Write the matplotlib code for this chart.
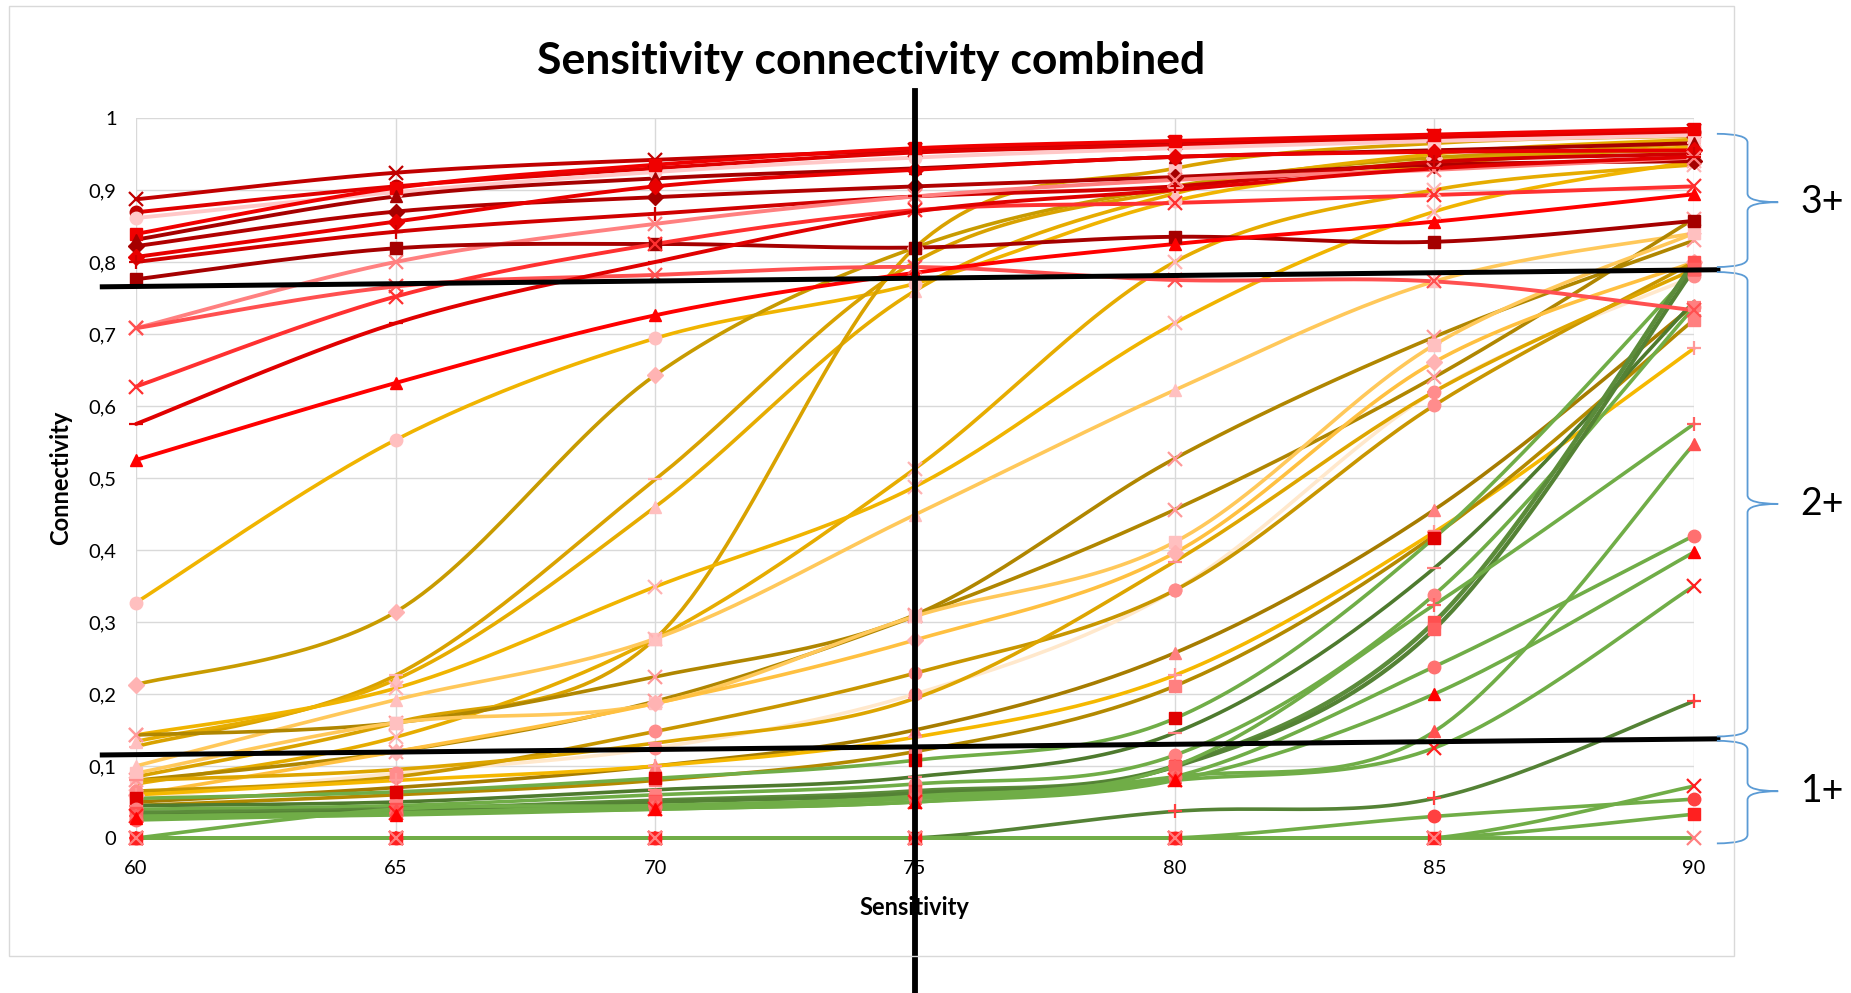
import numpy as np
import matplotlib.pyplot as plt
from matplotlib.path import Path
from matplotlib.patches import PathPatch, Rectangle

plt.rcParams['font.family'] = ['Lato', 'DejaVu Sans']

sensitivity = [60, 65, 70, 75, 80, 85, 90]
y_ticks = [0, 0.1, 0.2, 0.3, 0.4, 0.5, 0.6, 0.7, 0.8, 0.9, 1.0]
y_tick_labels = ['0', '0,1', '0,2', '0,3', '0,4', '0,5', '0,6', '0,7', '0,8', '0,9', '1']

# gold / yellow series (2+ at 75)
gold_values = [
    [0.327, 0.553, 0.694, 0.770, 0.885, 0.935, 0.960],
    [0.213, 0.314, 0.643, 0.820, 0.905, 0.945, 0.955],
    [0.127, 0.226, 0.498, 0.800, 0.900, 0.940, 0.965],
    [0.134, 0.220, 0.460, 0.760, 0.895, 0.950, 0.970],
    [0.085, 0.160, 0.277, 0.820, 0.930, 0.965, 0.975],
    [0.075, 0.140, 0.277, 0.513, 0.800, 0.900, 0.935],
    [0.143, 0.208, 0.349, 0.488, 0.715, 0.870, 0.940],
    [0.100, 0.192, 0.277, 0.449, 0.622, 0.773, 0.840],
    [0.143, 0.160, 0.224, 0.310, 0.527, 0.696, 0.830],
    [0.080, 0.120, 0.190, 0.308, 0.456, 0.640, 0.860],
    [0.090, 0.160, 0.187, 0.308, 0.411, 0.685, 0.840],
    [0.060, 0.120, 0.187, 0.275, 0.396, 0.661, 0.800],
    [0.055, 0.090, 0.125, 0.200, 0.344, 0.620, 0.780],
    [0.065, 0.085, 0.148, 0.229, 0.344, 0.601, 0.800],
    [0.050, 0.070, 0.100, 0.150, 0.257, 0.456, 0.740],
    [0.060, 0.080, 0.100, 0.140, 0.226, 0.425, 0.680],
    [0.045, 0.060, 0.080, 0.120, 0.211, 0.420, 0.720],
    [0.080, 0.095, 0.132, 0.194, 0.384, 0.620, 0.790],
]
gold_colors = ['#F0B400', '#C89B00', '#D9A200', '#E6AC00', '#D9A200', '#E6AC00',
               '#F0B400', '#FFC85A', '#B08600', '#B08600', '#FFC85A', '#FFC040',
               '#FFE8CC', '#C89600', '#A67C00', '#F5B800', '#B38900', '#DDA500']
gold_markers = ['o', 'D', '_', '^', 's', 'x', 'x', '^', 'x', 'x', 's', 'D',
                'o', 'o', '^', '+', 's', '_']
gold_marker_colors = ['#FFBFBF', '#FFB3B3', '#FFB3B3', '#FFBFBF', '#FFC0C0', '#FFB3B3',
                      '#FFB3B3', '#FFC0C0', '#FF9999', '#FF9999', '#FFC0C0', '#FFB3B3',
                      '#FF8C8C', '#FF8C8C', '#FF8080', '#FF9999', '#FF8080', '#FF8C8C']

# green series (1+ at 75)
green_values = [
    [0.055, 0.064, 0.083, 0.108, 0.166, 0.417, 0.790],
    [0.045, 0.050, 0.067, 0.085, 0.146, 0.375, 0.745],
    [0.040, 0.045, 0.060, 0.075, 0.115, 0.338, 0.737],
    [0.035, 0.040, 0.052, 0.065, 0.100, 0.300, 0.800],
    [0.030, 0.038, 0.050, 0.062, 0.099, 0.290, 0.790],
    [0.030, 0.035, 0.045, 0.058, 0.100, 0.324, 0.575],
    [0.025, 0.033, 0.043, 0.055, 0.085, 0.238, 0.420],
    [0.000, 0.040, 0.045, 0.055, 0.085, 0.148, 0.547],
    [0.030, 0.035, 0.040, 0.050, 0.080, 0.125, 0.350],
    [0.028, 0.032, 0.040, 0.050, 0.080, 0.200, 0.397],
    [0.000, 0.000, 0.000, 0.000, 0.037, 0.055, 0.190],
    [0.000, 0.000, 0.000, 0.000, 0.000, 0.030, 0.054],
    [0.000, 0.000, 0.000, 0.000, 0.000, 0.000, 0.072],
    [0.000, 0.000, 0.000, 0.000, 0.000, 0.000, 0.033],
    [0.000, 0.000, 0.000, 0.000, 0.000, 0.000, 0.000],
]
green_colors = ['#70AD47', '#4E7A2E', '#70AD47', '#5B8C3A', '#548235', '#70AD47',
                '#70AD47', '#70AD47', '#70AD47', '#70AD47', '#548235', '#70AD47',
                '#70AD47', '#70AD47', '#70AD47']
green_widths = [2.6, 2.6, 2.6, 3.2, 3.0, 2.6, 2.6, 2.6, 2.6, 2.6, 2.6, 2.6, 2.6, 2.6, 2.8]
green_markers = ['s', '_', 'o', 's', 's', '+', 'o', '^', 'x', '^', '+', 'o', 'x', 's', 'x']
green_marker_colors = ['#E00000', '#FF8080', '#FF8080', '#FF5050', '#FF6060', '#FF6060',
                       '#FF7070', '#FF5050', '#FF2020', '#FF0000', '#FF4040', '#FF4040',
                       '#FF2020', '#FF2020', '#FF8080']

# red series (3+ at 75)
red_values = [
    [0.887, 0.924, 0.942, 0.955, 0.965, 0.975, 0.982],
    [0.869, 0.905, 0.930, 0.952, 0.962, 0.973, 0.980],
    [0.861, 0.897, 0.925, 0.945, 0.958, 0.968, 0.976],
    [0.839, 0.903, 0.935, 0.958, 0.968, 0.977, 0.985],
    [0.831, 0.891, 0.916, 0.930, 0.946, 0.955, 0.965],
    [0.822, 0.870, 0.890, 0.905, 0.918, 0.935, 0.940],
    [0.807, 0.856, 0.905, 0.928, 0.946, 0.953, 0.955],
    [0.800, 0.842, 0.867, 0.891, 0.905, 0.939, 0.950],
    [0.708, 0.800, 0.853, 0.891, 0.914, 0.928, 0.945],
    [0.776, 0.819, 0.825, 0.820, 0.835, 0.828, 0.857],
    [0.708, 0.766, 0.782, 0.793, 0.775, 0.773, 0.733],
    [0.627, 0.752, 0.825, 0.872, 0.882, 0.893, 0.905],
    [0.575, 0.715, 0.800, 0.870, 0.900, 0.930, 0.946],
    [0.525, 0.632, 0.726, 0.785, 0.825, 0.856, 0.894],
]
red_colors = ['#C00000', '#E00000', '#FFC8C8', '#F00000', '#A50000', '#B00000',
              '#E80000', '#D00000', '#FF8080', '#A50000', '#FF5050', '#FF3030',
              '#E00000', '#FF0000']
red_markers = ['x', 'o', 'o', 's', '^', 'D', 'D', '+', 'x', 's', 'x', 'x', '_', '^']
red_marker_colors = ['#C00000', '#C00000', '#FFC8C8', '#F00000', '#A50000', '#A50000',
                     '#E80000', '#D00000', '#FF8080', '#A50000', '#FF5050', '#FF3030',
                     '#E00000', '#FF0000']

group_labels = ['3+', '2+', '1+']


def smooth(xs, ys, n=30):
    # Bezier smoothing in the style of spreadsheet "smoothed lines"
    p = np.column_stack([xs, ys]).astype(float)
    pad = np.vstack([p[0], p, p[-1]])
    t = np.linspace(0, 1, n)[:, None]
    pts = [p[:1]]
    for i in range(len(p) - 1):
        a = pad[i + 1]
        d = pad[i + 2]
        b = a + (pad[i + 2] - pad[i]) / 6
        c = d - (pad[i + 3] - pad[i + 1]) / 6
        seg = (1 - t) ** 3 * a + 3 * (1 - t) ** 2 * t * b + 3 * (1 - t) * t ** 2 * c + t ** 3 * d
        pts.append(seg[1:])
    pts = np.vstack(pts)
    return pts[:, 0], np.maximum(pts[:, 1], min(ys))


def brace(ax, x0, xm, xt, ytop, ybot, ymid, r=0.012):
    verts = [(x0, ytop), (xm, ytop), (xm, ytop - r),
             (xm, ymid + r), (xm, ymid), (xt, ymid),
             (xm, ymid), (xm, ymid - r),
             (xm, ybot + r), (xm, ybot), (x0, ybot)]
    codes = [Path.MOVETO, Path.CURVE3, Path.CURVE3,
             Path.LINETO, Path.CURVE3, Path.CURVE3,
             Path.CURVE3, Path.CURVE3,
             Path.LINETO, Path.CURVE3, Path.CURVE3]
    ax.add_patch(PathPatch(Path(verts, codes), fill=False, edgecolor='#5B9BD5',
                           lw=1.3, clip_on=False, zorder=6))


fig = plt.figure(figsize=(18.51, 9.93), dpi=100)
fig.patch.set_facecolor('white')
fig.add_artist(Rectangle((0.005, 0.037), 0.932, 0.957, transform=fig.transFigure,
                         fill=False, edgecolor='#D9D9D9', lw=1))
ax = fig.add_axes([0.0735, 0.1561, 0.8417, 0.7251])

groups = [
    (gold_values, gold_colors, [2.6] * len(gold_values), gold_markers, gold_marker_colors),
    (green_values, green_colors, green_widths, green_markers, green_marker_colors),
    (red_values, red_colors, [2.8] * len(red_values), red_markers, red_marker_colors),
]

for vals, cols, widths, _, _ in groups:
    for v, c, w in zip(vals, cols, widths):
        sx, sy = smooth(sensitivity, v)
        ax.plot(sx, sy, color=c, lw=w, solid_capstyle='round', clip_on=False, zorder=2)

for vals, _, _, marks, mcols in groups:
    for v, m, mc in zip(vals, marks, mcols):
        if m in ('x', '+', '_'):
            ax.plot(sensitivity, v, ls='none', marker=m, ms=10, mew=1.6, color=mc,
                    clip_on=False, zorder=3)
        else:
            ax.plot(sensitivity, v, ls='none', marker=m, ms=9 if m != 'D' else 8,
                    color=mc, mec=mc, clip_on=False, zorder=3)

# threshold lines
ax.plot([59.35, 90.46], [0.7655, 0.7892], color='black', lw=3.6, clip_on=False, zorder=5)
ax.plot([59.35, 90.46], [0.1153, 0.1377], color='black', lw=3.6, clip_on=False, zorder=5)
ax.plot([75, 75], [1.038, -0.23], color='black', lw=4.2, clip_on=False, zorder=5)

# group braces
brace(ax, 90.44, 91.03, 91.62, 0.978, 0.793, 0.883)
brace(ax, 90.44, 91.03, 91.62, 0.786, 0.141, 0.464)
brace(ax, 90.44, 91.03, 91.62, 0.135, -0.0075, 0.065)
for lab, yy in zip(group_labels, [0.883, 0.464, 0.065]):
    ax.text(92.05, yy, lab, fontsize=27, ha='left', va='center', clip_on=False)

ax.set_xlim(60, 90)
ax.set_ylim(0, 1)
ax.set_xticks(sensitivity)
ax.set_xticklabels([str(s) for s in sensitivity])
ax.set_yticks(y_ticks)
ax.set_yticklabels(y_tick_labels)
ax.tick_params(length=0, labelsize=14.5, pad=14, colors='black')
ax.tick_params(axis='x', pad=16)
ax.grid(True, color='#D9D9D9', lw=1)
ax.set_axisbelow(True)
for s in ax.spines.values():
    s.set_visible(False)

fig.text(0.4706, 0.939, 'Sensitivity connectivity combined', ha='center', va='center',
         fontsize=32, fontweight='bold')
fig.text(0.494, 0.0856, 'Sensitivity', ha='center', va='center', fontsize=17,
         fontweight='bold')
fig.text(0.0325, 0.5186, 'Connectivity', ha='center', va='center', fontsize=17,
         fontweight='bold', rotation=90)

fig.savefig('out.png', dpi=100, facecolor='white')
